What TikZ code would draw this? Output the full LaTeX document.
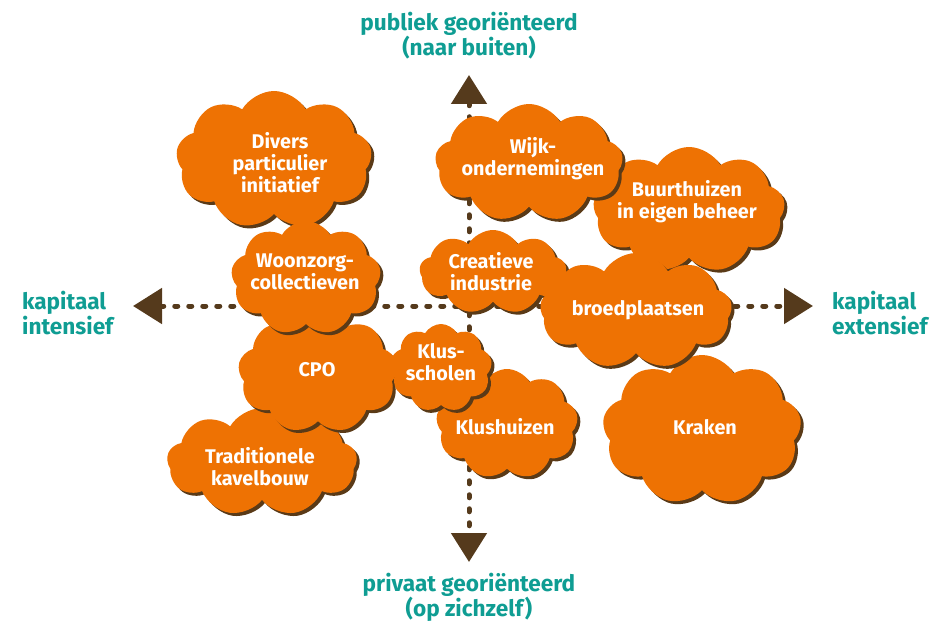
\documentclass[tikz,border=0pt]{standalone}
\usepackage{fontspec}
\setmainfont{Fira Sans}
\usepackage{xcolor}
\usetikzlibrary{arrows.meta,shapes.symbols,shadows}

\definecolor{wolkoranje}{HTML}{EE7203}
\definecolor{schaduw}{HTML}{5A3A17}
\definecolor{asbruin}{HTML}{553A1C}
\definecolor{asteal}{HTML}{0F9D93}

\tikzset{
  wolk/.style={cloud, cloud puffs=9, cloud puff arc=120, cloud ignores aspect,
    fill=wolkoranje, inner sep=0pt,
    copy shadow={fill=schaduw, draw=none, shadow xshift=3pt, shadow yshift=-3pt}},
  wolktekst/.style={text=white, font=\bfseries\fontsize{19.8}{22}\selectfont,
    align=center, inner sep=0pt},
  aslabel/.style={text=asteal, font=\bfseries\fontsize{22.6}{25}\selectfont, inner sep=0pt},
  as/.style={asbruin, line width=5pt, line cap=round, dash pattern=on 3pt off 11pt}
}

\begin{document}
\begin{tikzpicture}[x=1pt,y=-1pt]
\useasboundingbox (0,0) rectangle (934,623);

% assen
\coordinate (links) at (133,306);
\coordinate (rechts) at (813,306);
\coordinate (boven) at (469,75);
\coordinate (onder) at (469,562);
\begin{scope}[>={Triangle[length=29pt,width=35pt]}]
    \draw[as,<->] (links) -- (rechts);
    \draw[as,<->] (boven) -- (onder);
\end{scope}

\node[aslabel, align=center] (publiek) at (469,36) {publiek georiënteerd\\(naar buiten)};
\node[aslabel, align=center] (privaat) at (469,597) {privaat georiënteerd\\(op zichzelf)};
\node[aslabel, align=left, anchor=west] (intensief) at (22,313) {kapitaal\\intensief};
\node[aslabel, align=left, anchor=west] (extensief) at (832,313) {kapitaal\\extensief};

% wolken links
\node[wolk, minimum width=190pt, minimum height=108pt] (trad) at (262,462) {};
\node[wolktekst] (trad-t) at (260,467) {Traditionele\\kavelbouw};

\node[wolk, minimum width=160pt, minimum height=120pt] (cpo) at (318,373) {};
\node[wolktekst] (cpo-t) at (317,370) {CPO};

\node[wolk, minimum width=196pt, minimum height=138pt] (divers) at (274,160) {};
\node[wolktekst] (divers-t) at (280,163) {Divers\\particulier\\initiatief};

\node[wolk, minimum width=150pt, minimum height=114pt] (woonzorg) at (306,278) {};
\node[wolktekst] (woonzorg-t) at (305,272) {Woonzorg-\\collectieven};

% wolken midden
\node[wolk, minimum width=142pt, minimum height=110pt] (klushuizen) at (507,424) {};
\node[wolktekst] (klushuizen-t) at (505,427) {Klushuizen};

\node[wolk, minimum width=102pt, minimum height=88pt] (klusscholen) at (441,368) {};
\node[wolktekst] (klusscholen-t) at (441,362) {Klus-\\scholen};

% wolken rechts
\node[wolk, minimum width=199pt, minimum height=150pt] (kraken) at (702,430) {};
\node[wolktekst] (kraken-t) at (705,427) {Kraken};

\node[wolk, minimum width=192pt, minimum height=126pt] (buurthuizen) at (689,210) {};
\node[wolktekst] (buurthuizen-t) at (687,202) {Buurthuizen\\in eigen beheer};

\node[wolk, minimum width=188pt, minimum height=118pt] (wijk) at (529,163) {};
\node[wolktekst] (wijk-t) at (533,159) {Wijk-\\ondernemingen};

\node[wolk, minimum width=147pt, minimum height=84pt] (creatieve) at (493,272) {};
\node[wolktekst] (creatieve-t) at (491,272) {Creatieve\\industrie};

\node[wolk, minimum width=192pt, minimum height=116pt] (broed) at (636,311) {};
\node[wolktekst] (broed-t) at (638,310) {broedplaatsen};

\end{tikzpicture}
\end{document}
